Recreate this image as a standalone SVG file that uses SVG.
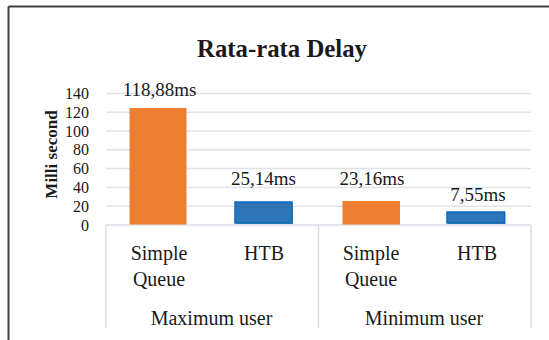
<svg xmlns="http://www.w3.org/2000/svg" width="549" height="340" viewBox="0 0 549 340">
  <style>
    .serif { font-family: "Liberation Serif", "Times New Roman", serif; fill: #1a1a1a; }
    .tick { font-size: 16px; text-anchor: end; }
    .val { font-size: 19px; text-anchor: middle; }
    .cat { font-size: 20px; text-anchor: middle; }
    .grid { stroke: #dfe3ea; stroke-width: 1.5; fill: none; }
    .axisbox { stroke: #d9dde4; stroke-width: 1.5; fill: none; }
    .orange { fill: #ed7d31; }
    .blue { fill: #2e75b6; stroke: #0a6ac6; stroke-width: 1.5; }
    .green { fill: #70ad47; }
  </style>

  <rect width="549" height="340" fill="#ffffff"/>

  <!-- chart frame (left and top edges) -->
  <g id="frame" stroke="#404040" stroke-width="2" fill="none">
    <line x1="8.5" y1="6.5" x2="549" y2="6.5"/>
    <line x1="8.5" y1="6.5" x2="8.5" y2="340"/>
  </g>

  <!-- title -->
  <g id="title">
    <text class="serif" x="282" y="57" font-size="26" font-weight="bold" text-anchor="middle" textLength="170" lengthAdjust="spacingAndGlyphs">Rata-rata Delay</text>
  </g>

  <!-- value axis -->
  <g id="y-axis">
    <g class="grid">
      <line x1="106" y1="206.2" x2="531" y2="206.2"/>
      <line x1="106" y1="187.4" x2="531" y2="187.4"/>
      <line x1="106" y1="168.6" x2="531" y2="168.6"/>
      <line x1="106" y1="149.8" x2="531" y2="149.8"/>
      <line x1="106" y1="131" x2="531" y2="131"/>
      <line x1="106" y1="112.2" x2="531" y2="112.2"/>
      <line x1="106" y1="93.4" x2="531" y2="93.4"/>
    </g>
    <g class="serif tick">
      <text x="89" y="230.5">0</text>
      <text x="89" y="211.7">20</text>
      <text x="89" y="192.9">40</text>
      <text x="89" y="174.1">60</text>
      <text x="89" y="155.3">80</text>
      <text x="89" y="136.5">100</text>
      <text x="89" y="117.7">120</text>
      <text x="89" y="98.9">140</text>
    </g>
    <text class="serif" transform="translate(57 154.5) rotate(-90)" font-size="17" font-weight="bold" text-anchor="middle">Milli second</text>
  </g>

  <!-- category axis box -->
  <g id="x-axis" class="axisbox">
    <line x1="106" y1="225" x2="531" y2="225"/>
    <line x1="106" y1="225" x2="106" y2="328"/>
    <line x1="318.5" y1="225" x2="318.5" y2="328"/>
    <line x1="531" y1="225" x2="531" y2="328"/>
  </g>

  <!-- bars -->
  <g id="bar-max-simple">
    <rect class="orange" x="129.5" y="108" width="57" height="116.5"/>
    <text class="serif val" x="159.5" y="96">118,88ms</text>
  </g>
  <g id="bar-max-htb">
    <rect class="green" x="236" y="203" width="57" height="21"/>
    <rect class="blue" x="235" y="202" width="57" height="21"/>
    <text class="serif val" x="263.5" y="184.5">25,14ms</text>
  </g>
  <g id="bar-min-simple">
    <rect class="orange" x="342.5" y="201" width="57.5" height="23.5"/>
    <text class="serif val" x="372" y="185">23,16ms</text>
  </g>
  <g id="bar-min-htb">
    <rect class="green" x="448" y="213" width="57.5" height="11"/>
    <rect class="blue" x="447" y="212" width="57.5" height="11"/>
    <text class="serif val" x="478" y="200.5">7,55ms</text>
  </g>

  <!-- category labels -->
  <g id="categories" class="serif cat">
    <text x="159" y="260">Simple</text>
    <text x="159" y="286">Queue</text>
    <text x="264" y="260">HTB</text>
    <text x="371" y="260">Simple</text>
    <text x="371" y="286">Queue</text>
    <text x="477" y="260">HTB</text>
    <text x="211.5" y="325">Maximum user</text>
    <text x="424" y="325">Minimum user</text>
  </g>
</svg>
